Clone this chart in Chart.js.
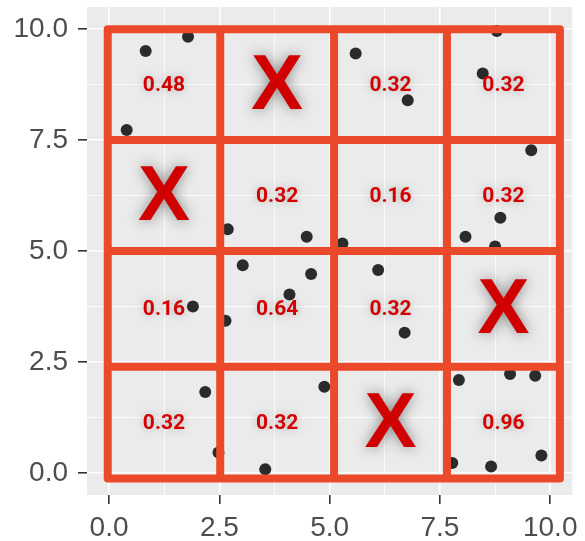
<!DOCTYPE html>
<html>
<head>
<meta charset="utf-8">
<script src="https://cdn.jsdelivr.net/npm/chart.js@4.4.1/dist/chart.umd.min.js"></script>
<style>
  html, body { margin: 0; padding: 0; background: #fff; }
  #wrap { width: 585px; height: 541px; position: relative; }
</style>
</head>
<body>
<div id="wrap"><canvas id="chart"></canvas></div>
<script>
/* ── data ─────────────────────────────────────────────────────────── */
const pointX = [0.40, 0.83, 1.79, 2.69, 3.03, 5.59, 6.77, 8.79, 8.47, 9.57,
                8.87, 8.08, 8.75, 4.48, 5.29, 1.90, 2.64, 4.09, 2.18, 2.48,
                3.54, 4.58, 6.10, 6.70, 4.88, 7.93, 9.09, 9.66, 9.80, 8.66, 7.78];
const pointY = [7.73, 9.51, 9.83, 5.49, 4.68, 9.45, 8.40, 9.96, 9.00, 7.27,
                5.75, 5.32, 5.10, 5.32, 5.17, 3.75, 3.43, 4.02, 1.82, 0.46,
                0.08, 4.48, 4.57, 3.16, 1.94, 2.09, 2.23, 2.19, 0.39, 0.14, 0.22];

// red cell grid boundaries (data units)
const cellEdgesX = [-0.03, 2.52, 5.10, 7.66, 10.22];
const cellEdgesY = [-0.13, 2.39, 5.00, 7.50, 10.00];

// cell labels, top row first, left to right ('X' = crossed out)
const cellLabels = [
  ['0.48', 'X',    '0.32', '0.32'],
  ['X',    '0.32', '0.16', '0.32'],
  ['0.16', '0.64', '0.32', 'X'   ],
  ['0.32', '0.32', 'X',    '0.96'],
];

const majorTicks = [0, 2.5, 5, 7.5, 10];
const minorTicks = [1.25, 3.75, 6.25, 8.75];
const tickLabels = ['0.0', '2.5', '5.0', '7.5', '10.0'];

/* ── plugins ──────────────────────────────────────────────────────── */
const panelBg = {
  id: 'panelBg',
  beforeDraw(chart) {
    const { ctx, chartArea: a } = chart;
    ctx.save();
    ctx.fillStyle = '#EBEBEB';
    ctx.fillRect(a.left, a.top, a.right - a.left, a.bottom - a.top);
    ctx.restore();
  },
};

const cellGrid = {
  id: 'cellGrid',
  afterDatasetsDraw(chart) {
    const { ctx, scales } = chart;
    const xs = cellEdgesX.map(v => scales.x.getPixelForValue(v));
    const ys = cellEdgesY.map(v => scales.y.getPixelForValue(v));
    const x0 = xs[0], x1 = xs[xs.length - 1];
    const y0 = ys[ys.length - 1], y1 = ys[0];
    ctx.save();
    ctx.strokeStyle = '#EA4A29';
    ctx.lineWidth = 8;
    ctx.lineCap = 'butt';
    ctx.beginPath();
    for (let i = 1; i < xs.length - 1; i++) { ctx.moveTo(xs[i], y0); ctx.lineTo(xs[i], y1); }
    for (let j = 1; j < ys.length - 1; j++) { ctx.moveTo(x0, ys[j]); ctx.lineTo(x1, ys[j]); }
    ctx.stroke();
    ctx.lineJoin = 'round';
    ctx.beginPath();
    ctx.rect(x0, y0, x1 - x0, y1 - y0);
    ctx.stroke();

    // labels in cell centres
    ctx.textAlign = 'center';
    ctx.textBaseline = 'middle';
    const nRows = cellLabels.length;
    cellLabels.forEach((row, r) => {
      const yi = nRows - 1 - r;               // top row -> highest y band
      const cy = (ys[yi] + ys[yi + 1]) / 2;
      row.forEach((lab, c) => {
        const cx = (xs[c] + xs[c + 1]) / 2;
        if (lab === 'X') {
          ctx.font = 'bold 78px "Liberation Sans", Arial, sans-serif';
          ctx.shadowColor = 'rgba(0,0,0,0.45)';
          ctx.shadowBlur = 14;
          ctx.fillStyle = '#D00000';
          ctx.fillText(lab, cx, cy + 3);
        } else {
          ctx.font = 'bold 21px Roboto, "Liberation Sans", sans-serif';
          ctx.shadowColor = 'rgba(0,0,0,0.25)';
          ctx.shadowBlur = 10;
          ctx.fillStyle = '#D40000';
          ctx.fillText(lab, cx, cy + 1);
        }
      });
    });
    ctx.restore();
  },
};

/* ── chart ────────────────────────────────────────────────────────── */
const isMajor = v => majorTicks.some(t => Math.abs(t - v) < 1e-6);
const allTicks = [...majorTicks, ...minorTicks].sort((a, b) => a - b);

function axisOpts(isX) {
  return {
    type: 'linear',
    min: -0.5,
    max: 10.5,
    afterBuildTicks: s => { s.ticks = allTicks.map(v => ({ value: v })); },
    afterFit: s => {
      if (isX) { s.height = 46; }
      else { s.width = 87; s.paddingTop = 0; s.paddingBottom = 0; }
    },
    ticks: {
      autoSkip: false,
      maxRotation: 0,
      color: '#4D4D4D',
      font: { family: '"Liberation Sans", Arial, sans-serif', size: 28 },
      padding: isX ? 7 : 10,
      callback: v => isMajor(v) ? tickLabels[majorTicks.findIndex(t => Math.abs(t - v) < 1e-6)] : '',
    },
    grid: {
      color: '#FFFFFF',
      lineWidth: c => (c.tick && isMajor(c.tick.value)) ? 1.6 : 0.8,
      tickColor: c => (c.tick && isMajor(c.tick.value)) ? '#333333' : 'rgba(0,0,0,0)',
      tickWidth: 1.6,
      tickLength: 9,
    },
    border: { display: false },
  };
}

new Chart(document.getElementById('chart'), {
  type: 'scatter',
  data: {
    datasets: [{
      data: pointX.map((x, i) => ({ x, y: pointY[i] })),
      pointRadius: 6,
      pointBackgroundColor: '#2B2B2B',
      pointBorderWidth: 0,
      pointHoverRadius: 6,
    }],
  },
  options: {
    responsive: true,
    maintainAspectRatio: false,
    animation: false,
    layout: { padding: { top: 7, right: 12, bottom: 0, left: 0 } },
    plugins: { legend: { display: false }, tooltip: { enabled: false } },
    scales: { x: axisOpts(true), y: axisOpts(false) },
  },
  plugins: [panelBg, cellGrid],
});
</script>
</body>
</html>
